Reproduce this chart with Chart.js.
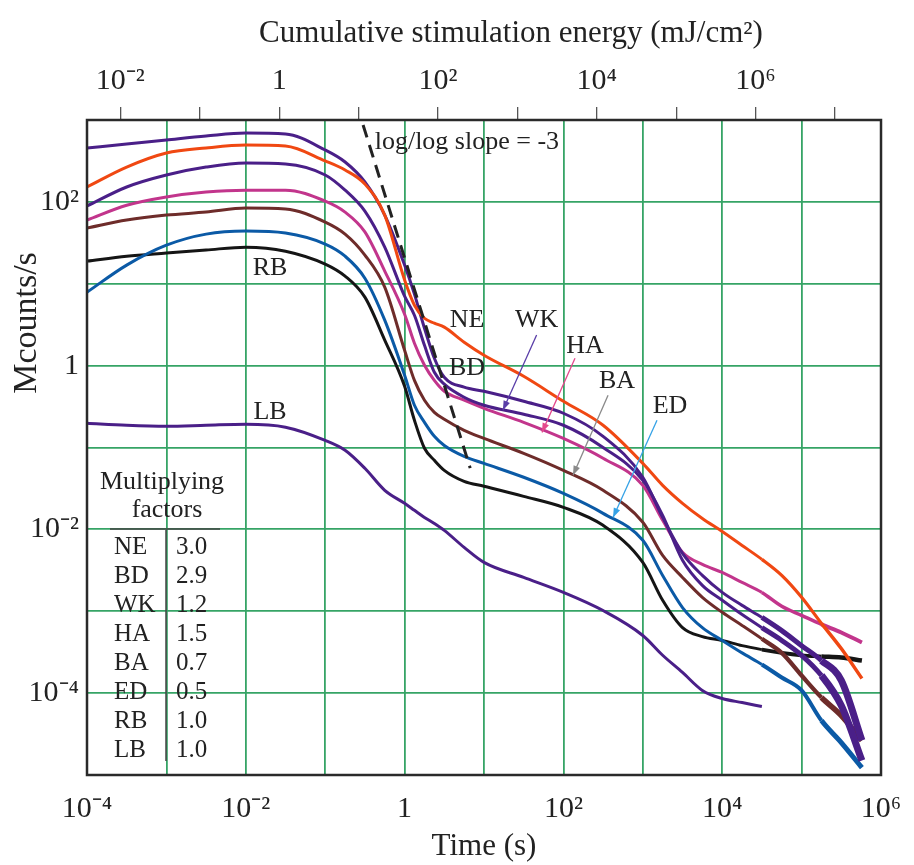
<!DOCTYPE html>
<html>
<head>
<meta charset="utf-8">
<script src="https://cdn.jsdelivr.net/npm/chart.js@4.4.1/dist/chart.umd.min.js"></script>
<style>
  html, body { margin: 0; padding: 0; background: #fff; }
</style>
</head>
<body>
<canvas id="decayChart" width="914" height="865"></canvas>
<script>
// time (s) shared by all curves
const timeGrid = [1e-4, 3.16e-4, 1e-3, 3.16e-3, 0.01, 0.0316, 0.1, 0.178, 0.316, 0.562,
    1, 1.33, 1.78, 2.37, 3.16, 5.62, 10, 31.6, 100, 316,
    1000, 1778, 3162, 5623, 1e4, 1.78e4, 3.16e4, 5.62e4, 1e5, 1.78e5, 3.16e5, 5.75e5];

// Mcounts/s
const neCounts = [152, 266, 395, 455, 494, 481, 316, 245, 165, 69,
    11.1, 5.47, 3.79, 3.3, 2.95, 1.93, 1.34, 0.741, 0.367, 0.187,
    0.064, 0.0345, 0.0208, 0.0136, 0.00944, 0.00637, 0.0043, 0.00274, 0.00148, 0.00071, 0.00035, 0.000151];
const bdCounts = [455, 509, 570, 637, 693, 675, 430, 307, 175, 69,
    16.9, 7.46, 2.86, 1.23, 0.72, 0.545, 0.486, 0.367, 0.262, 0.137,
    0.0433, 0.014, 0.0051, 0.00274, 0.0017, 0.00118, 0.00084, 0.00058, 0.00038, 0.00025, 0.000143, 0.0000264];
const wkCounts = [89, 152, 213, 266, 298, 290, 213, 139, 77, 28,
    7.05, 4.13, 1.77, 0.83, 0.593, 0.411, 0.328, 0.255, 0.187, 0.1,
    0.0397, 0.0148, 0.0042, 0.00207, 0.00136, 0.00091, 0.00063, 0.00044, 0.00029, 0.000164, 0.0000705, 0.000015];
const haCounts = [60, 91, 115, 132, 139, 139, 102, 75, 43, 14.3,
    4.25, 1.88, 1.01, 0.66, 0.486, 0.378, 0.301, 0.203, 0.129, 0.0738,
    0.0345, 0.0129, 0.00524, 0.00373, 0.00298, 0.00225, 0.0017, 0.00115, 0.00089, 0.00069, 0.00055, 0.000416];
const baCounts = [47.9, 60, 69, 75, 84, 82, 56.6, 40.4, 22.4, 9.08,
    1.54, 0.66, 0.378, 0.269, 0.221, 0.162, 0.129, 0.085, 0.0526, 0.03,
    0.0122, 0.0048, 0.00259, 0.00148, 0.00097, 0.00067, 0.00046, 0.00031, 0.000164, 0.0000883, 0.0000532, 0.0000264];
const edCounts = [7.89, 16.9, 29.6, 40.4, 44, 41.6, 30.5, 21.7, 11.7, 3.59,
    0.764, 0.328, 0.203, 0.137, 0.106, 0.078, 0.064, 0.0433, 0.0275, 0.0157,
    0.00735, 0.00274, 0.00111, 0.00063, 0.00044, 0.00031, 0.000224, 0.000155, 0.000108, 0.0000462, 0.0000249, 0.0000123];
const rbCounts = [18.9, 21.7, 23.7, 25.8, 28, 25, 17.4, 12.4, 6.86, 2.05,
    0.56, 0.215, 0.098, 0.0698, 0.0526, 0.0386, 0.0336, 0.0253, 0.0186, 0.0112,
    0.00395, 0.00136, 0.00063, 0.00049, 0.00044, 0.00038, 0.00034, 0.00031, 0.00029, 0.00028, 0.000272, 0.00025];
const lbCounts = [0.198, 0.187, 0.182, 0.187, 0.192, 0.177, 0.122, 0.0925, 0.0557, 0.03,
    0.0208, 0.0171, 0.014, 0.0118, 0.00972, 0.00603, 0.00395, 0.00259, 0.0017, 0.00102,
    0.000506, 0.00029, 0.000179, 0.000108, 0.0000859, 0.0000767, 0.0000686, null, null, null, null, null];

// dashed reference line, log/log slope = -3
const slopeTime = [0.3, 6.7];
const slopeCounts = [870, 0.056];

const seriesNames = ['NE', 'BD', 'WK', 'HA', 'BA', 'ED', 'RB', 'LB'];
const seriesColors = ['#f04812', '#4a1f88', '#4a1f88', '#c2358c', '#6e2c2a', '#0b5aa6', '#151515', '#4a1f88'];
// how thick the noisy tail gets (late times), per curve
const tailWidths = [3.5, 7, 7, 4, 5.5, 5, 4.5, 3];
const factorValues = ['3.0', '2.9', '1.2', '1.5', '0.7', '0.5', '1.0', '1.0'];

// tick labels
const timeDecades = [1e-4, 1e-3, 1e-2, 1e-1, 1, 10, 100, 1e3, 1e4, 1e5, 1e6];
const timeLabels = ['10⁻⁴', '', '10⁻²', '', '1', '', '10²', '', '10⁴', '', '10⁶'];
const countDecades = [1e-5, 1e-4, 1e-3, 1e-2, 1e-1, 1, 10, 100, 1e3];
const countLabels = ['', '10⁻⁴', '', '10⁻²', '', '1', '', '10²', ''];
const energyDecades = [1e-2, 1e-1, 1, 10, 100, 1e3, 1e4, 1e5, 1e6, 1e7];
const energyLabels = ['10⁻²', '', '1', '', '10²', '', '10⁴', '', '10⁶', ''];
const energyPerSecond = 38;   // mJ/cm² per second of stimulation

// curve labels and arrows, in data units [time, counts]
const curveLabels = [
    { text: 'RB', at: [0.0202, 15.5] },
    { text: 'LB', at: [0.0202, 0.27] },
    { text: 'NE', at: [6.1, 3.6] },
    { text: 'BD', at: [6.1, 0.93] },
    { text: 'WK', at: [46, 3.6] },
    { text: 'HA', at: [187, 1.73] },
    { text: 'BA', at: [473, 0.64] },
    { text: 'ED', at: [2200, 0.32] }
];
const labelArrows = [
    { from: [46, 2.36], to: [17.3, 0.285], color: '#5a3ea8' },
    { from: [140, 1.23], to: [53.7, 0.153], color: '#e4498c' },
    { from: [365, 0.435], to: [132, 0.0457], color: '#8a8a8a' },
    { from: [1510, 0.215], to: [422, 0.014], color: '#35a2e6' }
];

const serif = "'Liberation Serif', 'Times New Roman', serif";
const gridGreen = '#36a466';

function pairs(xs, ys) {
    const out = [];
    xs.forEach((x, i) => {
        if (ys[i] !== null) out.push({ x: x, y: ys[i] });
    });
    return out;
}

const allCounts = [neCounts, bdCounts, wkCounts, haCounts, baCounts, edCounts, rbCounts, lbCounts];

const datasets = [{
    label: 'slope -3',
    data: pairs(slopeTime, slopeCounts),
    borderColor: '#222',
    borderWidth: 3,
    borderDash: [13, 8],
    showLine: true,
    pointRadius: 0
}];
allCounts.forEach((counts, i) => {
    datasets.push({
        label: seriesNames[i],
        data: pairs(timeGrid, counts),
        borderColor: seriesColors[i],
        borderWidth: 3,
        showLine: true,
        pointRadius: 0,
        tension: 0.3,
        cubicInterpolationMode: 'monotone',
        segment: {
            borderWidth: c => {
                const t = c.p0.parsed.x;
                if (t >= 1.7e5) return tailWidths[i];
                if (t >= 3e4) return (tailWidths[i] + 3) / 2;
                return 3;
            }
        }
    });
});

const annotationPlugin = {
    id: 'annotations',
    afterDraw(chart) {
        const ctx = chart.ctx;
        const xs = chart.scales.x;
        const ys = chart.scales.y;
        const area = chart.chartArea;
        const px = v => xs.getPixelForValue(v);
        const py = v => ys.getPixelForValue(v);

        ctx.save();
        // frame
        ctx.strokeStyle = '#2a2a2a';
        ctx.lineWidth = 2.5;
        ctx.strokeRect(area.left, area.top, area.right - area.left, area.bottom - area.top);

        // axis titles that sit off-centre in the original
        ctx.fillStyle = '#222';
        ctx.font = '31px ' + serif;
        ctx.textAlign = 'center';
        ctx.textBaseline = 'middle';
        ctx.fillText('Cumulative stimulation energy (mJ/cm²)', area.left + 424, 34);
        ctx.save();
        ctx.translate(27, area.top + 203);
        ctx.rotate(-Math.PI / 2);
        ctx.font = '34px ' + serif;
        ctx.fillText('Mcounts/s', 0, 0);
        ctx.restore();

        ctx.font = '26px ' + serif;
        curveLabels.forEach(l => ctx.fillText(l.text, px(l.at[0]), py(l.at[1])));

        ctx.textAlign = 'left';
        ctx.fillText('log/log slope = -3', px(0.42), py(538));

        // arrows
        labelArrows.forEach(a => {
            const x0 = px(a.from[0]), y0 = py(a.from[1]);
            const x1 = px(a.to[0]), y1 = py(a.to[1]);
            ctx.strokeStyle = a.color;
            ctx.fillStyle = a.color;
            ctx.lineWidth = 1.3;
            ctx.beginPath();
            ctx.moveTo(x0, y0);
            ctx.lineTo(x1, y1);
            ctx.stroke();
            const ang = Math.atan2(y1 - y0, x1 - x0);
            ctx.beginPath();
            ctx.moveTo(x1, y1);
            ctx.lineTo(x1 - 10 * Math.cos(ang - 0.35), y1 - 10 * Math.sin(ang - 0.35));
            ctx.lineTo(x1 - 10 * Math.cos(ang + 0.35), y1 - 10 * Math.sin(ang + 0.35));
            ctx.closePath();
            ctx.fill();
        });

        // multiplying factors table
        const tl = area.left, tt = area.top;
        ctx.fillStyle = '#222';
        ctx.font = '26px ' + serif;
        ctx.textAlign = 'center';
        ctx.fillText('Multiplying', tl + 75, tt + 362);
        ctx.fillText('factors', tl + 80, tt + 390);
        ctx.strokeStyle = '#444';
        ctx.lineWidth = 1.5;
        ctx.beginPath();
        ctx.moveTo(tl + 23, tt + 409);
        ctx.lineTo(tl + 133, tt + 409);
        ctx.moveTo(tl + 79, tt + 410);
        ctx.lineTo(tl + 79, tt + 641);
        ctx.stroke();
        ctx.textAlign = 'left';
        ctx.font = '25px ' + serif;
        seriesNames.forEach((name, i) => {
            const y = tt + 427 + i * 29;
            ctx.fillText(name, tl + 27, y);
            ctx.fillText(factorValues[i], tl + 89, y);
        });
        ctx.restore();
    }
};

function fixSize(size) {
    return function (scale) {
        if (scale.isHorizontal()) {
            scale.height = size;
            scale.paddingLeft = 0;
            scale.paddingRight = 0;
        } else {
            scale.width = size;
            scale.paddingTop = 0;
            scale.paddingBottom = 0;
        }
    };
}

new Chart(document.getElementById('decayChart'), {
    type: 'scatter',
    data: { datasets: datasets },
    options: {
        responsive: false,
        animation: false,
        devicePixelRatio: 1,
        layout: { padding: { left: 0, right: 33, top: 0, bottom: 0 } },
        plugins: {
            legend: { display: false },
            tooltip: { enabled: false }
        },
        scales: {
            x: {
                type: 'logarithmic',
                position: 'bottom',
                min: 1e-4,
                max: 1e6,
                afterBuildTicks: s => { s.ticks = timeDecades.map(v => ({ value: v })); },
                afterFit: fixSize(90),
                grid: { color: gridGreen, lineWidth: 1.8, drawTicks: false },
                border: { display: false },
                ticks: {
                    autoSkip: false,
                    maxRotation: 0,
                    padding: 16,
                    color: '#222',
                    font: { family: serif, size: 30 },
                    callback: (v, i) => timeLabels[i]
                },
                title: {
                    display: true,
                    text: 'Time (s)',
                    color: '#222',
                    font: { family: serif, size: 31 },
                    padding: { top: 0, bottom: 0 }
                }
            },
            x2: {
                type: 'logarithmic',
                position: 'top',
                min: 1e-4 * energyPerSecond,
                max: 1e6 * energyPerSecond,
                afterBuildTicks: s => { s.ticks = energyDecades.map(v => ({ value: v })); },
                afterFit: fixSize(120),
                grid: { drawOnChartArea: false, drawTicks: true, tickLength: 13, tickColor: '#555', lineWidth: 1.3 },
                border: { display: false },
                ticks: {
                    autoSkip: false,
                    maxRotation: 0,
                    padding: 8,
                    color: '#222',
                    font: { family: serif, size: 30 },
                    callback: (v, i) => energyLabels[i]
                }
            },
            y: {
                type: 'logarithmic',
                min: 1e-5,
                max: 1e3,
                afterBuildTicks: s => { s.ticks = countDecades.map(v => ({ value: v })); },
                afterFit: fixSize(87),
                grid: { color: gridGreen, lineWidth: 1.8, drawTicks: false },
                border: { display: false },
                ticks: {
                    autoSkip: false,
                    padding: 8,
                    color: '#222',
                    font: { family: serif, size: 30 },
                    callback: (v, i) => countLabels[i]
                }
            }
        }
    },
    plugins: [annotationPlugin]
});
</script>
</body>
</html>
